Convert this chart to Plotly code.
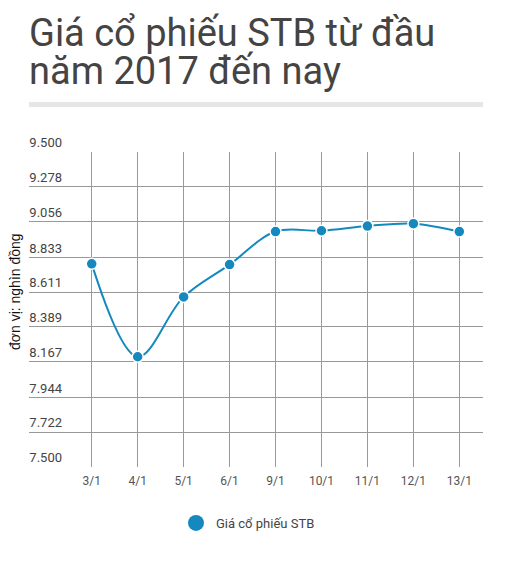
import plotly.graph_objects as go

ngay = ["3/1", "4/1", "5/1", "6/1", "9/1", "10/1", "11/1", "12/1", "13/1"]
gia_stb = [8.79, 8.20, 8.58, 8.785, 8.995, 9.0, 9.03, 9.045, 8.995]
y_ticks = [7.5, 7.722, 7.944, 8.167, 8.389, 8.611, 8.833, 9.056, 9.278, 9.5]
y_labels = ["7.500", "7.722", "7.944", "8.167", "8.389", "8.611", "8.833", "9.056", "9.278", "9.500"]

# page body has an 8px margin, so the figure sits 8px in from the window corner
OFF = 8
W, H = 508 - OFF, 564 - OFF
L, R, T, B = 29 - OFF, 25, 152 - OFF, 97
plot_w = W - L - R
plot_h = H - T - B
BLUE = "#1589bd"


def py(sy):
    # window pixel y -> paper coords
    return (H - B - (sy - OFF)) / plot_h


def px(sx):
    # window pixel x -> paper coords
    return (sx - OFF - L) / plot_w


fig = go.Figure()
fig.add_trace(go.Scatter(
    x=ngay,
    y=gia_stb,
    mode="lines+markers",
    line=dict(color=BLUE, width=2, shape="spline", smoothing=1),
    marker=dict(size=11, color=BLUE, line=dict(color="white", width=1.5)),
    showlegend=False,
))
# legend entry only (bigger dot, like the reference)
fig.add_trace(go.Scatter(
    x=[None], y=[None],
    name="Giá cổ phiếu STB",
    mode="markers",
    marker=dict(size=16, color=BLUE),
))

fig.update_layout(
    width=W, height=H,
    margin=dict(l=L, r=R, t=T, b=B),
    paper_bgcolor="white",
    plot_bgcolor="white",
    font=dict(family="Roboto", color="#444"),
    showlegend=True,
    legend=dict(
        orientation="h", x=px(176), xanchor="left",
        y=py(508), yanchor="top", yref="paper",
        font=dict(family="Roboto", size=13, color="#444"),
        itemsizing="trace",
    ),
    xaxis=dict(
        type="category",
        range=[-1.365, 8.515],
        showgrid=True, gridcolor="#999", gridwidth=1,
        zeroline=False, showline=False,
        ticks="", tickfont=dict(family="Roboto", size=12, color="#555"),
        ticklabelstandoff=5,
    ),
    yaxis=dict(
        range=[7.5, 9.5],
        tickvals=y_ticks, ticktext=y_labels,
        ticklabelposition="outside top",
        ticklabelstandoff=-34,
        automargin=False,
        showgrid=True, gridcolor="#999", gridwidth=1,
        zeroline=False, showline=False,
        ticks="", tickfont=dict(family="Roboto", size=13, color="#444"),
    ),
    shapes=[dict(
        type="rect", xref="paper", yref="paper",
        x0=0, x1=1, y0=py(107), y1=py(102),
        fillcolor="#e6e6e6", line=dict(width=0),
    )],
    annotations=[
        dict(
            text="Giá cổ phiếu STB từ đầu",
            xref="paper", yref="paper",
            x=px(27), y=py(33), xanchor="left", yanchor="middle",
            showarrow=False,
            font=dict(family="Roboto", size=38, color="#444"),
        ),
        dict(
            text="năm 2017 đến nay",
            xref="paper", yref="paper",
            x=px(27), y=py(71), xanchor="left", yanchor="middle",
            showarrow=False,
            font=dict(family="Roboto", size=38, color="#444"),
        ),
        dict(
            text="đơn vị: nghìn đồng",
            xref="paper", yref="paper",
            x=px(15), y=py(292),
            xanchor="center", yanchor="middle",
            textangle=-90, showarrow=False,
            font=dict(family="Liberation Sans", size=14, color="#111"),
        ),
    ],
)

fig.write_html("out.html")
